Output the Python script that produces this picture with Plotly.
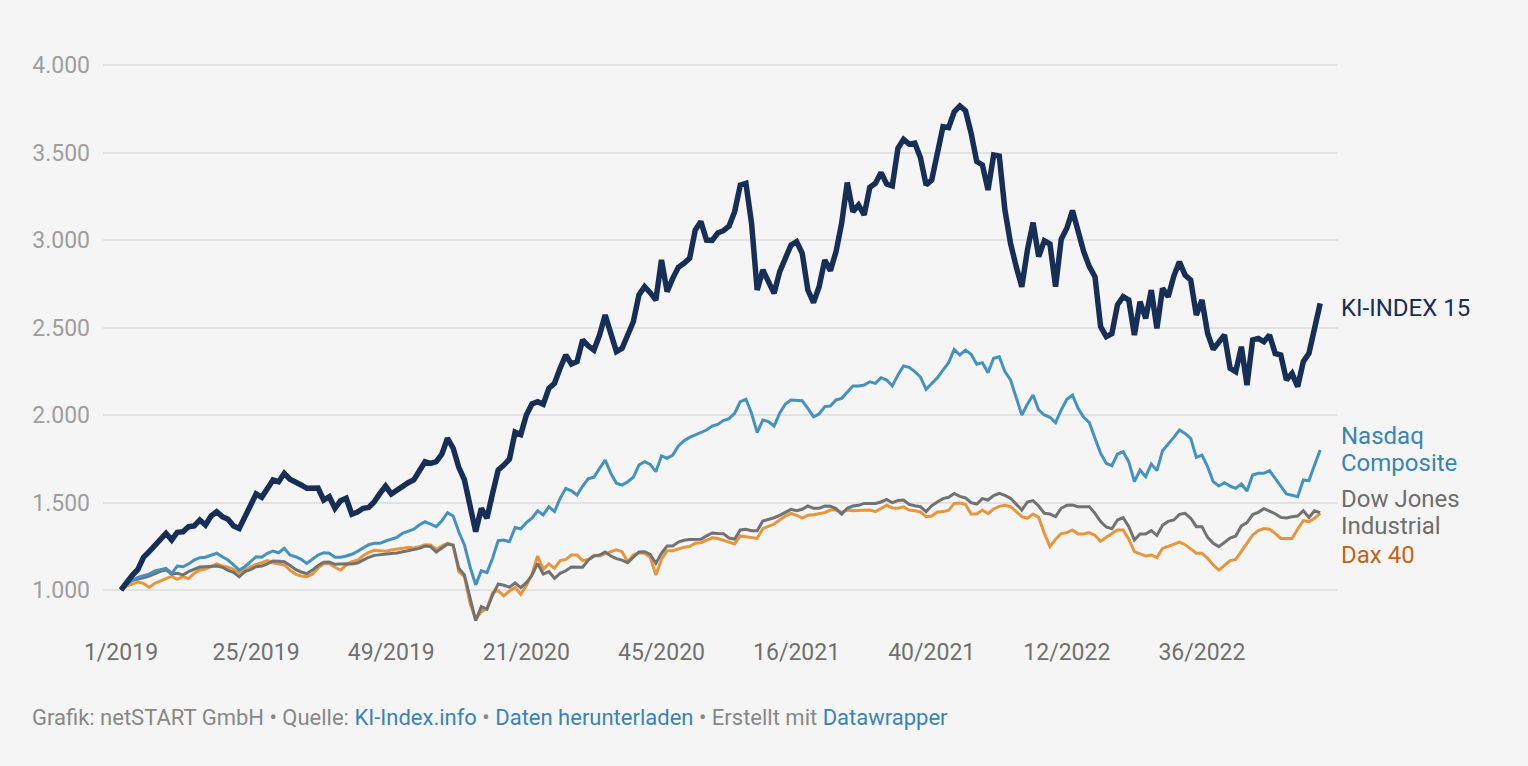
import plotly.graph_objects as go

# ---- categories (ISO weeks) ----
year_weeks = [(2019, 52), (2020, 53), (2021, 52), (2022, 52), (2023, 5)]
weeks = [f"{w}/{y}" for y, n in year_weeks for w in range(1, n + 1)]

tick_labels = ["1/2019", "25/2019", "49/2019", "21/2020", "45/2020",
               "16/2021", "40/2021", "12/2022", "36/2022"]
y_ticks = [1000, 1500, 2000, 2500, 3000, 3500, 4000]
y_tick_text = ["1.000", "1.500", "2.000", "2.500", "3.000", "3.500", "4.000"]

ki_index = [
    1000, 1047, 1084, 1118, 1187, 1219, 1253, 1290, 1324, 1286, 1330, 1333, 1362, 1366, 1400, 1371,
    1423, 1447, 1419, 1404, 1366, 1352, 1419, 1495, 1549, 1530, 1581, 1629, 1619, 1667, 1633, 1619,
    1600, 1581, 1582, 1582, 1514, 1533, 1467, 1510, 1524, 1433, 1446, 1467, 1472, 1505, 1552, 1594,
    1549, 1571, 1596, 1613, 1629, 1682, 1733, 1724, 1733, 1777, 1867, 1810, 1701, 1629, 1495, 1333,
    1467, 1410, 1552, 1686, 1714, 1748, 1902, 1888, 2000, 2063, 2076, 2061, 2153, 2181, 2267, 2343,
    2291, 2305, 2429, 2394, 2371, 2457, 2571, 2457, 2362, 2381, 2448, 2533, 2686, 2733, 2699, 2657,
    2886, 2705, 2781, 2844, 2867, 2895, 3057, 3105, 3000, 2998, 3040, 3053, 3080, 3162, 3314, 3324,
    3095, 2714, 2829, 2756, 2695, 2819, 2895, 2971, 2990, 2924, 2714, 2642, 2733, 2886, 2825, 2933,
    3095, 3328, 3162, 3200, 3143, 3301, 3324, 3385, 3320, 3309, 3524, 3575, 3548, 3554, 3470, 3314,
    3343, 3505, 3648, 3642, 3733, 3766, 3739, 3610, 3448, 3429, 3286, 3486, 3480, 3171, 2981, 2848,
    2733, 2943, 3099, 2905, 2996, 2977, 2733, 3004, 3067, 3168, 3038, 2933, 2848, 2790, 2505, 2448,
    2465, 2630, 2676, 2657, 2457, 2648, 2552, 2714, 2495, 2724, 2676, 2794, 2876, 2800, 2771, 2571,
    2657, 2467, 2375, 2413, 2457, 2267, 2248, 2390, 2171, 2429, 2438, 2419, 2457, 2352, 2343, 2200,
    2238, 2162, 2305, 2352, 2495, 2638]

nasdaq = [
    1000, 1034, 1057, 1072, 1082, 1091, 1109, 1118, 1124, 1095, 1137, 1133, 1149, 1171, 1185, 1187,
    1200, 1210, 1190, 1171, 1143, 1114, 1133, 1162, 1190, 1187, 1210, 1223, 1213, 1238, 1200, 1190,
    1175, 1152, 1175, 1200, 1213, 1210, 1187, 1187, 1194, 1204, 1221, 1242, 1259, 1267, 1267, 1280,
    1290, 1301, 1324, 1335, 1347, 1371, 1390, 1377, 1362, 1396, 1442, 1423, 1333, 1257, 1133, 1029,
    1110, 1099, 1181, 1282, 1286, 1276, 1357, 1350, 1385, 1410, 1453, 1429, 1476, 1448, 1524, 1581,
    1567, 1543, 1594, 1636, 1644, 1695, 1743, 1667, 1610, 1600, 1619, 1644, 1714, 1733, 1718, 1676,
    1766, 1753, 1771, 1823, 1853, 1872, 1886, 1899, 1914, 1937, 1946, 1968, 1979, 2010, 2076, 2090,
    2010, 1899, 1971, 1962, 1937, 2010, 2063, 2086, 2086, 2082, 2038, 1990, 2006, 2048, 2051, 2086,
    2095, 2133, 2166, 2166, 2171, 2190, 2181, 2213, 2200, 2166, 2229, 2280, 2272, 2248, 2217, 2147,
    2181, 2213, 2257, 2299, 2375, 2343, 2371, 2347, 2290, 2299, 2242, 2324, 2333, 2248, 2200, 2095,
    2000, 2063, 2114, 2029, 2000, 1987, 1956, 2029, 2090, 2114, 2038, 1987, 1956, 1867, 1781, 1724,
    1710, 1777, 1790, 1733, 1619, 1686, 1648, 1720, 1682, 1796, 1832, 1872, 1914, 1895, 1867, 1758,
    1771, 1705, 1619, 1594, 1613, 1594, 1581, 1606, 1566, 1657, 1667, 1667, 1682, 1638, 1594, 1549,
    1541, 1533, 1629, 1625, 1714, 1800]

dow_jones = [
    1000, 1038, 1055, 1061, 1069, 1080, 1095, 1107, 1116, 1091, 1095, 1086, 1105, 1120, 1131, 1133,
    1135, 1137, 1130, 1112, 1101, 1076, 1105, 1116, 1133, 1137, 1149, 1166, 1164, 1162, 1141, 1118,
    1103, 1093, 1114, 1140, 1158, 1160, 1147, 1150, 1150, 1149, 1154, 1171, 1187, 1198, 1200, 1202,
    1208, 1211, 1217, 1223, 1229, 1238, 1251, 1248, 1217, 1238, 1263, 1255, 1124, 1086, 952, 825,
    905, 890, 971, 1034, 1027, 1016, 1040, 1014, 1042, 1084, 1152, 1091, 1105, 1067, 1095, 1110,
    1131, 1130, 1130, 1171, 1194, 1200, 1217, 1194, 1179, 1171, 1156, 1187, 1217, 1219, 1204, 1152,
    1210, 1251, 1251, 1274, 1284, 1288, 1290, 1290, 1309, 1326, 1323, 1322, 1297, 1291, 1343, 1347,
    1339, 1339, 1394, 1402, 1413, 1427, 1446, 1461, 1453, 1461, 1480, 1467, 1467, 1480, 1478, 1465,
    1434, 1467, 1480, 1484, 1495, 1495, 1495, 1503, 1518, 1499, 1511, 1514, 1489, 1481, 1476, 1448,
    1482, 1503, 1522, 1530, 1552, 1535, 1526, 1499, 1491, 1522, 1514, 1539, 1552, 1541, 1524, 1491,
    1457, 1503, 1511, 1480, 1438, 1434, 1419, 1467, 1484, 1486, 1476, 1476, 1476, 1438, 1391, 1360,
    1350, 1400, 1413, 1362, 1286, 1320, 1320, 1339, 1312, 1370, 1392, 1400, 1432, 1438, 1410, 1362,
    1362, 1301, 1267, 1248, 1271, 1297, 1309, 1366, 1385, 1431, 1444, 1465, 1451, 1436, 1415, 1411,
    1419, 1423, 1453, 1415, 1453, 1442]

dax = [
    1000, 1023, 1034, 1046, 1038, 1015, 1038, 1053, 1065, 1078, 1061, 1076, 1065, 1095, 1114, 1120,
    1133, 1149, 1137, 1131, 1118, 1099, 1114, 1133, 1147, 1156, 1168, 1156, 1149, 1143, 1114, 1091,
    1080, 1076, 1090, 1125, 1152, 1150, 1130, 1114, 1143, 1162, 1171, 1196, 1215, 1227, 1225, 1221,
    1229, 1232, 1238, 1244, 1240, 1248, 1259, 1257, 1232, 1253, 1267, 1257, 1105, 1076, 924, 832,
    876, 895, 985, 996, 966, 995, 1015, 975, 1025, 1091, 1194, 1118, 1149, 1124, 1168, 1175,
    1200, 1200, 1168, 1175, 1198, 1194, 1208, 1219, 1229, 1219, 1162, 1200, 1213, 1210, 1187, 1086,
    1175, 1225, 1225, 1236, 1244, 1248, 1267, 1270, 1282, 1298, 1294, 1284, 1272, 1263, 1309, 1305,
    1301, 1295, 1351, 1366, 1377, 1400, 1423, 1438, 1427, 1411, 1427, 1430, 1434, 1442, 1457, 1457,
    1444, 1457, 1453, 1455, 1457, 1457, 1448, 1467, 1484, 1469, 1467, 1475, 1457, 1453, 1447, 1419,
    1423, 1446, 1448, 1455, 1495, 1497, 1488, 1434, 1434, 1457, 1436, 1463, 1478, 1484, 1476, 1448,
    1419, 1410, 1434, 1415, 1324, 1248, 1290, 1322, 1328, 1343, 1320, 1320, 1328, 1312, 1278, 1301,
    1324, 1343, 1343, 1290, 1219, 1206, 1194, 1200, 1185, 1238, 1251, 1261, 1274, 1259, 1236, 1210,
    1210, 1181, 1143, 1114, 1141, 1168, 1175, 1219, 1267, 1314, 1339, 1351, 1347, 1324, 1295, 1295,
    1295, 1347, 1396, 1391, 1410, 1438]

series_names = ["KI-INDEX 15", "Nasdaq Composite", "Dow Jones Industrial", "Dax 40"]

# ---- styling ----
BG = "#f5f5f5"
C_KI = "#172f57"
C_NAS = "#4592bf"
C_DOW = "#727272"
C_DAX = "#e8963c"
FONT = "Roboto"

W, H = 1528, 766
L, R, T, B = 103, 1338, 40, 630  # plot area in pixels


def px_x(px):
    return (px - L) / (R - L)


def px_y(py):
    return (B - py) / (B - T)


fig = go.Figure()
n = len(ki_index)
x = weeks[:n]

fig.add_trace(go.Scatter(x=x, y=dax, mode="lines", name=series_names[3],
                         line=dict(color=C_DAX, width=3), hoverinfo="skip"))
fig.add_trace(go.Scatter(x=x, y=dow_jones, mode="lines", name=series_names[2],
                         line=dict(color=C_DOW, width=3), hoverinfo="skip"))
fig.add_trace(go.Scatter(x=x, y=nasdaq, mode="lines", name=series_names[1],
                         line=dict(color=C_NAS, width=3), hoverinfo="skip"))
fig.add_trace(go.Scatter(x=x, y=ki_index, mode="lines", name=series_names[0],
                         line=dict(color=C_KI, width=5.5), hoverinfo="skip"))

# y range chosen so that 1000 sits at pixel 590 and 4000 at pixel 65
per_px = 3000 / 525.0
y_min = 1000 - (B - 590) * per_px
y_max = 1000 + (590 - T) * per_px
x_per_px = 1 / 5.63
x_min = (L - 121) * x_per_px
x_max = (R - 121) * x_per_px

fig.update_layout(
    width=W, height=H,
    margin=dict(l=L, r=W - R, t=T, b=H - B),
    paper_bgcolor=BG, plot_bgcolor=BG,
    showlegend=False,
    font=dict(family=FONT, color="#888888", size=22),
    xaxis=dict(
        type="category", categoryorder="array", categoryarray=weeks[:n],
        range=[x_min, x_max],
        tickmode="array", tickvals=tick_labels, ticktext=tick_labels,
        showgrid=False, zeroline=False, showline=False, ticks="",
        tickfont=dict(family=FONT, size=23, color="#707070"),
        ticklabelstandoff=6,
    ),
    yaxis=dict(
        range=[y_min, y_max],
        tickmode="array", tickvals=y_ticks, ticktext=y_tick_text,
        showgrid=True, gridcolor="#e2e2e2", gridwidth=1.5,
        zeroline=False, showline=False, ticks="",
        tickfont=dict(family=FONT, size=23, color="#9e9e9e"),
        ticklabelstandoff=12,
    ),
)

# direct labels at the right (one annotation per text line)
label_lines = [
    ("KI-INDEX 15", 308, C_KI),
    ("Nasdaq", 436, "#3a84b3"),
    ("Composite", 463, "#3a84b3"),
    ("Dow Jones", 499, "#6e6e6e"),
    ("Industrial", 526, "#6e6e6e"),
    ("Dax 40", 555, "#c2651c"),
]
for txt, py, col in label_lines:
    fig.add_annotation(
        x=px_x(1339), xref="paper", y=px_y(py), yref="paper",
        text=txt, showarrow=False, xanchor="left", yanchor="middle", align="left",
        font=dict(family=FONT, size=24, color=col),
    )

link = "#3b83b5"
footer = ("Grafik: netSTART GmbH • Quelle: "
          f"<span style='color:{link}'>KI-Index.info</span> • "
          f"<span style='color:{link}'>Daten herunterladen</span> • Erstellt mit "
          f"<span style='color:{link}'>Datawrapper</span>")
fig.add_annotation(
    x=px_x(30), xref="paper", y=px_y(717), yref="paper",
    text=footer, showarrow=False, xanchor="left", yanchor="middle", align="left",
    font=dict(family=FONT, size=22, color="#888888"),
)

fig.write_html(
    "out.html",
    config={"displayModeBar": False},
    post_script=(
        "document.body.style.margin='0px';"
        "document.body.style.background='#f5f5f5';"
        "document.documentElement.style.background='#f5f5f5';"
    ),
)
